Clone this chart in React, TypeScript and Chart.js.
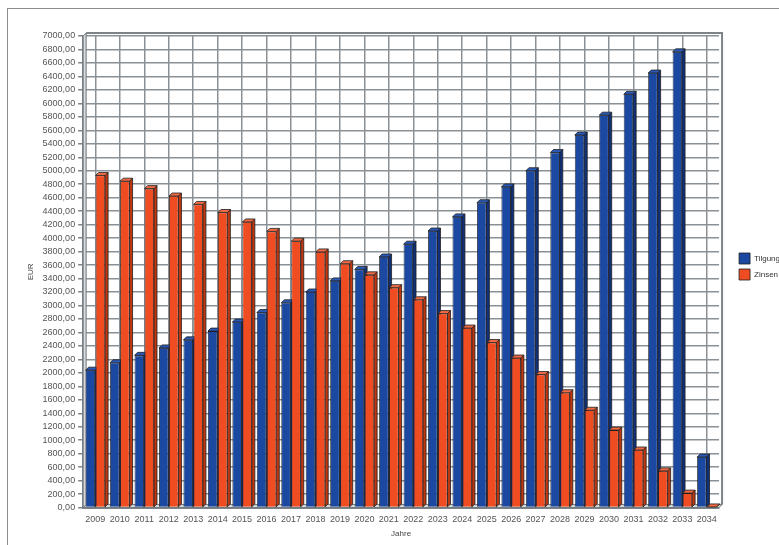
import React, { useEffect, useRef } from "react";
import { Chart, registerables } from "chart.js";

Chart.register(...registerables);

const years = [
  "2009", "2010", "2011", "2012", "2013", "2014", "2015", "2016", "2017",
  "2018", "2019", "2020", "2021", "2022", "2023", "2024", "2025", "2026",
  "2027", "2028", "2029", "2030", "2031", "2032", "2033", "2034",
];

const tilgung = [
  2040, 2150, 2260, 2370, 2490, 2620, 2755, 2895, 3040, 3200, 3365, 3535, 3720,
  3910, 4105, 4315, 4525, 4760, 5000, 5270, 5530, 5825, 6135, 6450, 6765, 750,
];

const zinsen = [
  4930, 4845, 4735, 4625, 4500, 4380, 4240, 4100, 3955, 3795, 3620, 3455, 3265,
  3085, 2880, 2665, 2450, 2220, 1975, 1705, 1445, 1150, 855, 545, 215, 10,
];

const yMin = 0;
const yMax = 7000;
const yStep = 200;

const seriesNames = ["Tilgung", "Zinsen"];
const frontColors = ["#1b48a0", "#f04c22"];
const sideColors = ["#10307a", "#c0360f"];
const topColors = ["#2a59b8", "#f26a44"];

const fmt = (v: number) => v.toFixed(2).replace(".", ",");

const DX = 3;
const DY = 3;

const legendShiftPlugin = {
  id: "legendShift",
  afterLayout(chart: any) {
    const lg = chart.legend;
    if (!lg) return;
    lg.left += 15;
    lg.right += 15;
    lg.top -= 21;
    lg.bottom -= 21;
  },
};

const depthPlugin = {
  id: "depth3d",
  beforeDatasetsDraw(chart: any) {
    const ctx = chart.ctx;
    const area = chart.chartArea;
    ctx.save();
    ctx.strokeStyle = "#7d8489";
    ctx.lineWidth = 2;
    ctx.beginPath();
    ctx.moveTo(area.left + DX, area.top - DY);
    ctx.lineTo(area.right + DX, area.top - DY);
    ctx.lineTo(area.right + DX, area.bottom - DY);
    ctx.stroke();
    ctx.fillStyle = "#d8dadc";
    ctx.beginPath();
    ctx.moveTo(area.left, area.bottom);
    ctx.lineTo(area.left + DX, area.bottom - DY);
    ctx.lineTo(area.right + DX, area.bottom - DY);
    ctx.lineTo(area.right, area.bottom);
    ctx.closePath();
    ctx.fill();
    ctx.strokeStyle = "#6f767b";
    ctx.lineWidth = 1;
    ctx.stroke();
    ctx.fillStyle = "#d8dadc";
    ctx.beginPath();
    ctx.moveTo(area.left, area.bottom);
    ctx.lineTo(area.left, area.top);
    ctx.lineTo(area.left + DX, area.top - DY);
    ctx.lineTo(area.left + DX, area.bottom - DY);
    ctx.closePath();
    ctx.fill();
    ctx.stroke();

    chart.data.datasets.forEach((_ds: any, i: number) => {
      const meta = chart.getDatasetMeta(i);
      meta.data.forEach((bar: any) => {
        const { x, y, base, width } = bar.getProps(["x", "y", "base", "width"], true);
        const l = x - width / 2;
        const r = x + width / 2;
        ctx.lineWidth = 0.8;
        ctx.strokeStyle = "#1e1e1e";
        ctx.fillStyle = sideColors[i];
        ctx.beginPath();
        ctx.moveTo(r, y);
        ctx.lineTo(r + DX, y - DY);
        ctx.lineTo(r + DX, base - DY);
        ctx.lineTo(r, base);
        ctx.closePath();
        ctx.fill();
        ctx.stroke();
        ctx.fillStyle = topColors[i];
        ctx.beginPath();
        ctx.moveTo(l, y);
        ctx.lineTo(l + DX, y - DY);
        ctx.lineTo(r + DX, y - DY);
        ctx.lineTo(r, y);
        ctx.closePath();
        ctx.fill();
        ctx.stroke();
      });
    });
    ctx.restore();
  },
};

export default function App() {
  const canvasRef = useRef<HTMLCanvasElement | null>(null);

  useEffect(() => {
    if (!canvasRef.current) return;
    const chart = new Chart(canvasRef.current, {
      type: "bar",
      data: {
        labels: years,
        datasets: [
          {
            label: seriesNames[0],
            data: tilgung,
            backgroundColor: frontColors[0],
            borderColor: "#1e1e1e",
            borderWidth: 0.8,
            categoryPercentage: 0.82,
            barPercentage: 0.94,
          },
          {
            label: seriesNames[1],
            data: zinsen,
            backgroundColor: frontColors[1],
            borderColor: "#1e1e1e",
            borderWidth: 0.8,
            categoryPercentage: 0.82,
            barPercentage: 0.94,
          },
        ],
      },
      options: {
        animation: false,
        responsive: false,
        maintainAspectRatio: false,
        layout: { padding: { top: 27, left: 18, right: 4, bottom: 6 } },
        plugins: {
          tooltip: { enabled: false },
          legend: {
            position: "right",
            labels: {
              boxWidth: 11,
              boxHeight: 11,
              padding: 5,
              color: "#333",
              font: { family: "Liberation Sans, Arial, sans-serif", size: 8 },
            },
          },
        },
        scales: {
          x: {
            grid: {
              offset: false,
              color: "#8a9196",
              lineWidth: 1.5,
              drawTicks: false,
            },
            border: { color: "#7d8489", width: 2 },
            ticks: {
              color: "#555",
              padding: 7,
              maxRotation: 0,
              autoSkip: false,
              font: { family: "Liberation Sans, Arial, sans-serif", size: 9 },
            },
            title: {
              display: true,
              text: "Jahre",
              color: "#444",
              padding: { top: -3, bottom: 0 },
              font: { family: "Liberation Sans, Arial, sans-serif", size: 8 },
            },
          },
          y: {
            min: yMin,
            max: yMax,
            grid: {
              color: "#8a9196",
              lineWidth: 1.5,
              tickLength: 5,
              tickColor: "#7d8489",
            },
            border: { color: "#7d8489", width: 2 },
            ticks: {
              stepSize: yStep,
              autoSkip: false,
              color: "#555",
              padding: 3,
              callback: (v: any) => fmt(Number(v)),
              font: { family: "Liberation Sans, Arial, sans-serif", size: 9 },
            },
            title: {
              display: true,
              text: "EUR",
              color: "#444",
              padding: { top: 0, bottom: 4 },
              font: { family: "Liberation Sans, Arial, sans-serif", size: 8 },
            },
          },
        },
      },
      plugins: [depthPlugin, legendShiftPlugin],
    });
    return () => chart.destroy();
  }, []);

  return (
    <div
      style={{
        position: "fixed",
        left: 7,
        top: 8,
        width: 772,
        height: 537,
        boxSizing: "border-box",
        borderTop: "1px solid #8c8c8c",
        borderLeft: "1px solid #8c8c8c",
        background: "#fff",
        overflow: "hidden",
      }}
    >
      <canvas
        ref={canvasRef}
        width={771}
        height={536}
        style={{ position: "absolute", left: 0, top: 0, width: 771, height: 536 }}
      />
    </div>
  );
}
